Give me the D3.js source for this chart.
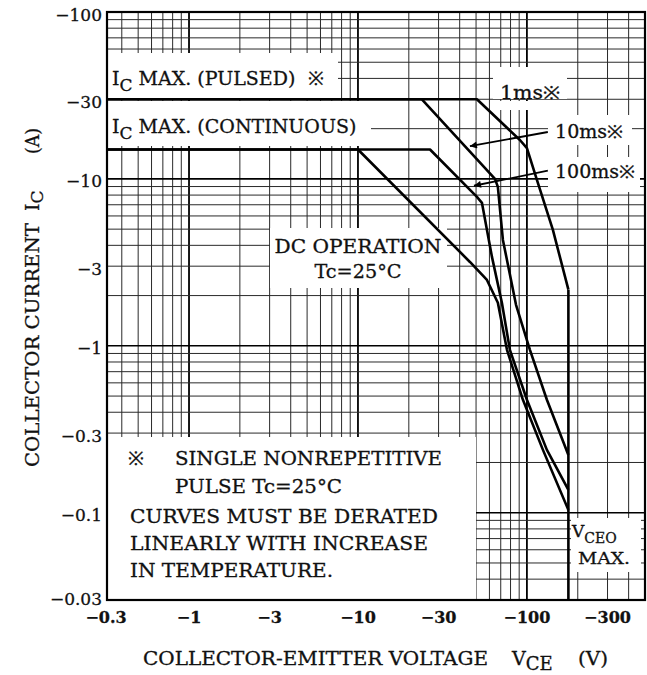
<!DOCTYPE html>
<html>
<head>
<meta charset="utf-8">
<script src="https://cdn.jsdelivr.net/npm/d3@7"></script>
<style>
  html, body { margin: 0; padding: 0; background: #fff; }
  svg { display: block; }
  text { font-family: "DejaVu Serif", "Liberation Serif", serif; fill: #111; stroke: #111; stroke-width: 0.3px; }
</style>
</head>
<body>
<svg id="chart" width="647" height="675"></svg>
<script>
// ---------------- data ----------------
const xTickValues = [0.3, 1, 3, 10, 30, 100, 300];
const yTickValues = [100, 30, 10, 3, 1, 0.3, 0.1, 0.03];
const xDomain = [0.327, 500];
const yDomain = [0.03, 100];
const icPulsed = 30;       // A
const icContinuous = 15;   // A
const vceoMax = 176;       // V

// SOA curves: [VCE (V), IC (A)]
const curve1ms   = [[0.327, 30], [50.6, 30], [90.9, 17.1], [100, 15.3], [114.6, 9.86], [142.5, 4.95], [176, 2.17]];
const curve10ms  = [[0.327, 30], [23.9, 30], [64.7, 10], [67.3, 8.96], [72.1, 4.31], [86.2, 1.76], [104.2, 0.946], [131.3, 0.475], [176, 0.222]];
const curve100ms = [[0.327, 15], [26.7, 15], [50.6, 7.8], [54.2, 7.18], [62.1, 3.41], [71.1, 1.81], [79.3, 0.946], [100, 0.475], [131.3, 0.238], [176, 0.137]];
const curveDC    = [[0.327, 15], [10, 15], [46, 3.18], [58, 2.48], [67.3, 1.81], [76.2, 0.946], [94.7, 0.475], [124.4, 0.238], [176, 0.104]];
const vceoLine   = [[176, 2.17], [176, 0.03]];

// arrows: [tail, tip] in data coords
const arrow10ms  = [[133, 19.1], [46, 15.7]];
const arrow100ms = [[133, 11.2], [48.6, 9.1]];

// ---------------- layout ----------------
const svg = d3.select("#chart");
const L = 107, R = 645, T = 12, B = 600;
const x = d3.scaleLog().domain(xDomain).range([L, R]);
const y = d3.scaleLog().domain(yDomain).range([B, T]);

svg.append("rect").attr("width", 647).attr("height", 675).attr("fill", "#fff");

function logGrid(lo, hi) {
  const out = [];
  for (let e = -3; e <= 3; e++) {
    for (let m = 1; m <= 9; m++) {
      const v = m * Math.pow(10, e);
      if (v > lo * 1.0001 && v < hi * 0.9999) out.push({v, major: m === 1});
    }
  }
  return out;
}
const gx = logGrid(xDomain[0], xDomain[1]);
const gy = logGrid(yDomain[0], yDomain[1]);

const grid = svg.append("g");
grid.selectAll("line.v").data(gx).join("line")
  .attr("x1", d => x(d.v)).attr("x2", d => x(d.v))
  .attr("y1", T).attr("y2", B)
  .attr("stroke", d => d.major ? "#000" : "#2a2a2a")
  .attr("stroke-width", d => d.major ? 1.8 : 1);
grid.selectAll("line.h").data(gy).join("line")
  .attr("y1", d => y(d.v)).attr("y2", d => y(d.v))
  .attr("x1", L).attr("x2", R)
  .attr("stroke", d => d.major ? "#000" : "#2a2a2a")
  .attr("stroke-width", d => d.major ? 1.6 : 1);

// white label boxes masking grid
const boxes = [
  [L + 1, 53, 338, 99],     // IC MAX pulsed
  [L + 1, 101, 371, 146],   // IC MAX continuous
  [493, 67, 567, 99],       // 1ms
  [493, 101, 567, 110],
  [548, 115, 632, 145],     // 10ms
  [548, 157, 640, 192],     // 100ms
  [270, 228, 447, 288],     // DC operation
  [L + 1, 437, 476, B - 1], // notes
  [571, 518, 641, 572]      // VCEO max
];
svg.append("g").selectAll("rect").data(boxes).join("rect")
  .attr("x", d => d[0]).attr("y", d => d[1])
  .attr("width", d => d[2] - d[0]).attr("height", d => d[3] - d[1])
  .attr("fill", "#fff");

// frame
svg.append("rect").attr("x", L).attr("y", T).attr("width", R - L).attr("height", B - T)
  .attr("fill", "none").attr("stroke", "#000").attr("stroke-width", 2.2);

// curves
const line = d3.line().x(d => x(d[0])).y(d => y(d[1]));
const curves = [curve1ms, curve10ms, curve100ms, curveDC, vceoLine];
svg.append("g").selectAll("path").data(curves).join("path")
  .attr("d", line).attr("fill", "none").attr("stroke", "#000")
  .attr("stroke-width", 2.6).attr("stroke-linejoin", "round");

// arrows
svg.append("defs").append("marker")
  .attr("id", "ah").attr("viewBox", "0 0 10 10").attr("refX", 10).attr("refY", 5)
  .attr("markerWidth", 11).attr("markerHeight", 7).attr("markerUnits", "userSpaceOnUse")
  .attr("orient", "auto")
  .append("path").attr("d", "M0,0 L10,5 L0,10 Z").attr("fill", "#000");
svg.append("g").selectAll("line").data([arrow10ms, arrow100ms]).join("line")
  .attr("x1", d => x(d[0][0])).attr("y1", d => y(d[0][1]))
  .attr("x2", d => x(d[1][0])).attr("y2", d => y(d[1][1]))
  .attr("stroke", "#000").attr("stroke-width", 1.8).attr("marker-end", "url(#ah)");

// tick labels
svg.append("g").selectAll("text").data(yTickValues).join("text")
  .attr("x", 102).attr("y", d => y(d) + (d === 0.03 ? 5 : 8.5))
  .attr("text-anchor", "end").attr("font-size", 17)
  .text(d => "\u2212" + d);
svg.append("g").selectAll("text").data(xTickValues).join("text")
  .attr("x", d => Math.max(x(d), L - 1)).attr("y", 623)
  .attr("text-anchor", "middle").attr("font-size", 16).attr("font-weight", "bold")
  .text(d => "\u2212" + d);

function txt(str, px, py, size, len, anchor) {
  const t = svg.append("text").attr("x", px).attr("y", py).attr("font-size", size).text(str);
  if (len) t.attr("textLength", len).attr("lengthAdjust", "spacingAndGlyphs");
  if (anchor) t.attr("text-anchor", anchor);
  return t;
}
function sub(main, subStr, rest, px, py, size, subSize, dy) {
  const t = svg.append("text").attr("x", px).attr("y", py).attr("font-size", size);
  t.append("tspan").text(main);
  t.append("tspan").attr("dy", dy).attr("font-size", subSize).text(subStr);
  if (rest) t.append("tspan").attr("dy", -dy).text(rest);
  return t;
}

// IC MAX labels
sub("I", "C", " MAX. (PULSED)", 112, 85, 19, 17, 6);
txt("\u203B", 308, 85, 19);
sub("I", "C", " MAX. (CONTINUOUS)", 112, 133, 19, 17, 6);

// pulse labels
txt("1ms\u203B", 500, 99, 18, 60);
txt("10ms\u203B", 555, 138, 18, 68);
txt("100ms\u203B", 555, 178, 18, 80);

// DC operation
txt("DC OPERATION", 358, 253, 19, 167, "middle");
txt("Tc=25\u00B0C", 358, 278, 19, 87, "middle");

// notes
txt("\u203B", 128, 465, 19);
txt("SINGLE NONREPETITIVE", 175, 465, 19, 267);
txt("PULSE Tc=25\u00B0C", 175, 493, 18, 167);
txt("CURVES MUST BE DERATED", 130, 523, 19, 308);
txt("LINEARLY WITH INCREASE", 130, 550, 19, 298);
txt("IN TEMPERATURE.", 130, 577, 19, 203);

// VCEO max
sub("V", "CEO", null, 572, 537, 17, 14, 6);
txt("MAX.", 578, 564, 16, 52);

// axis titles
txt("COLLECTOR-EMITTER VOLTAGE", 143, 665, 19, 345);
sub("V", "CE", null, 512, 665, 19, 18, 5);
txt("(V)", 578, 665, 19, 30);

const yt = svg.append("g").attr("transform", "translate(39,0) rotate(-90)");
yt.append("text").attr("x", -467).attr("y", 0).attr("font-size", 19)
  .attr("textLength", 244).attr("lengthAdjust", "spacingAndGlyphs").text("COLLECTOR CURRENT");
const ic = yt.append("text").attr("x", -211).attr("y", 0).attr("font-size", 19);
ic.append("tspan").text("I");
ic.append("tspan").attr("dy", 4).attr("font-size", 17).text("C");
yt.append("text").attr("x", -154).attr("y", 0).attr("font-size", 19)
  .attr("textLength", 26).attr("lengthAdjust", "spacingAndGlyphs").text("(A)");
</script>
</body>
</html>
